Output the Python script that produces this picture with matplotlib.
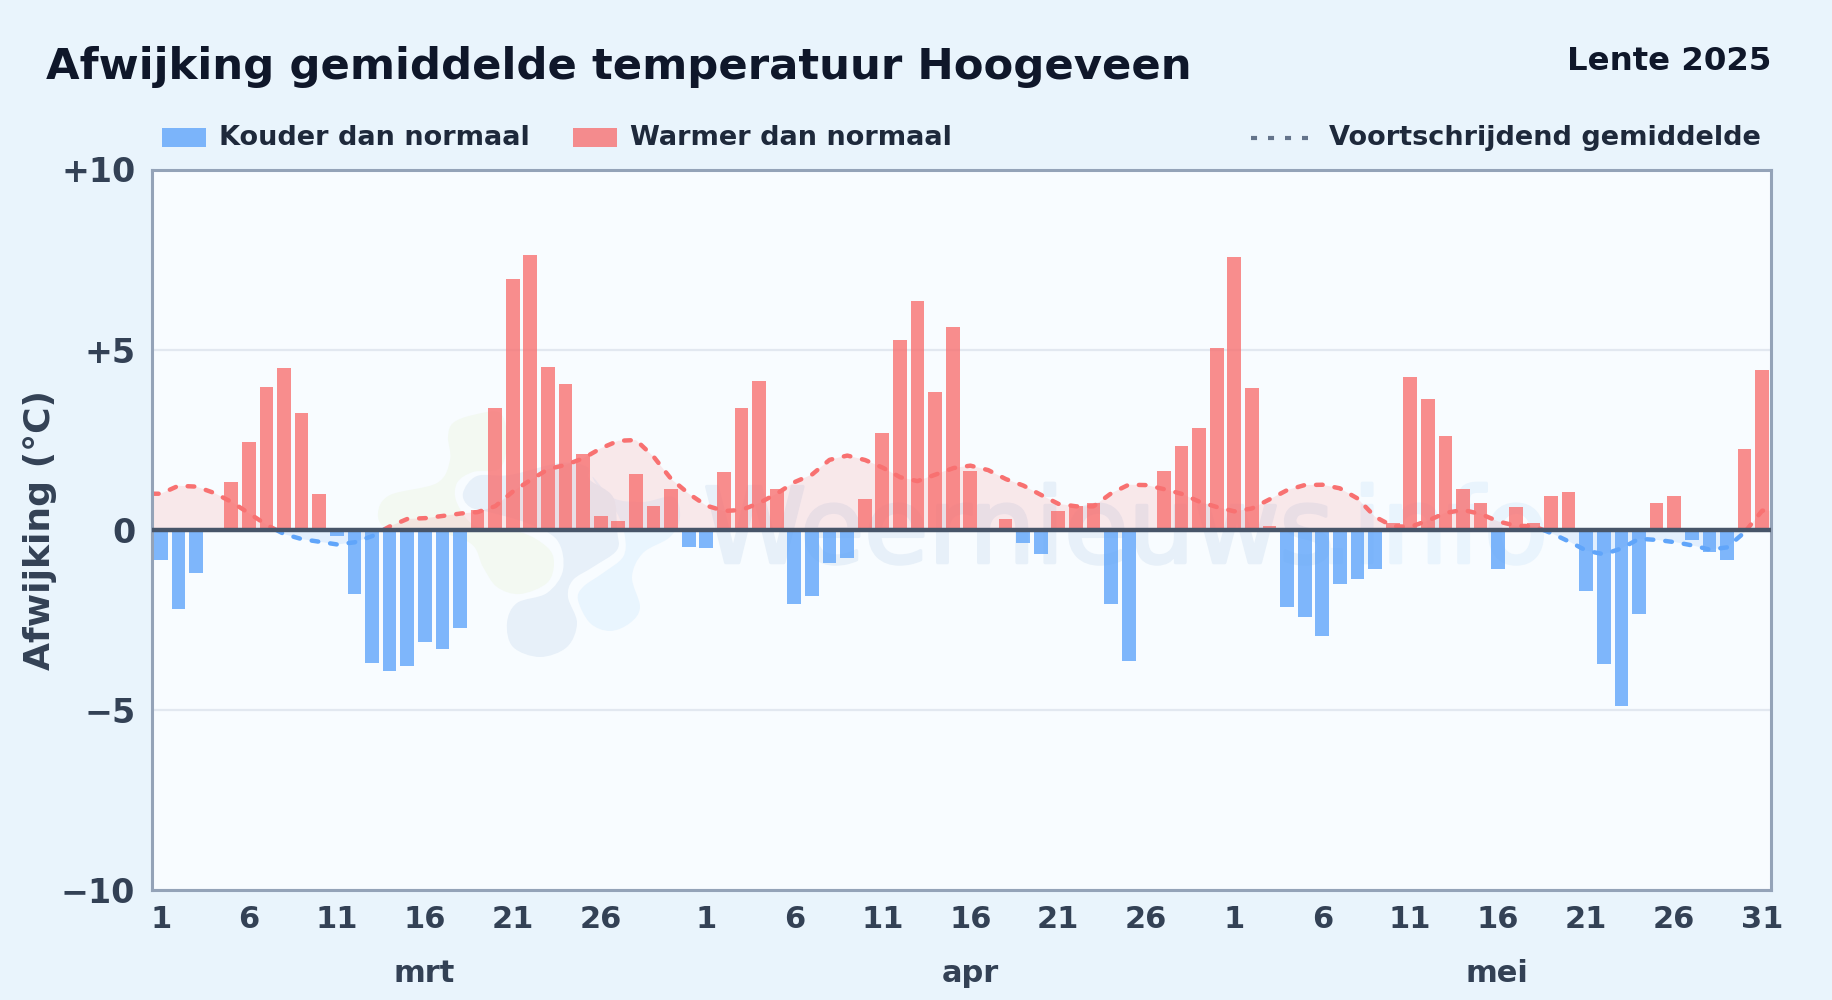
import numpy as np
import matplotlib
matplotlib.use("Agg")
import matplotlib.pyplot as plt
import matplotlib.patheffects as pe
from matplotlib.patches import PathPatch, Rectangle
from matplotlib.path import Path
from matplotlib.lines import Line2D

W, H = 1832, 1000

afwijking = [
    -0.83, -2.2, -1.21, -0.07, 1.33, 2.44, 3.97, 4.5, 3.25, 1.0, -0.18, -1.78, -3.7, -3.93, -3.78, -3.12,
    -3.3, -2.72, 0.54, 3.39, 6.97, 7.63, 4.52, 4.05, 2.11, 0.39, 0.25, 1.56, 0.67, 1.12, -0.49,
    -0.52, 1.59, 3.39, 4.13, 1.14, -2.07, -1.85, -0.93, -0.79, 0.84, 2.69, 5.27, 6.35, 3.83, 5.63,
    1.64, 0.06, 0.29, -0.38, -0.68, 0.51, 0.65, 0.73, -2.07, -3.64, 0.0, 1.64, 2.33, 2.83, 5.05,
    7.57, 3.94, 0.11, -2.14, -2.42, -2.94, -1.5, -1.37, -1.08, 0.2, 4.25, 3.64, 2.59, 1.12, 0.73,
    -1.08, 0.64, 0.18, 0.93, 1.04, -1.7, -3.74, -4.88, -2.33, 0.73, 0.93, -0.29, -0.61, -0.84, 2.25, 4.44,
]
gemiddelde = [
    1.0, 1.22, 1.2, 1.03, 0.78, 0.46, 0.14, -0.12, -0.26, -0.33, -0.41, -0.35, -0.18, 0.09, 0.3, 0.32,
    0.38, 0.45, 0.49, 0.65, 1.06, 1.38, 1.68, 1.8, 1.98, 2.26, 2.47, 2.49, 2.03, 1.41, 1.0,
    0.67, 0.52, 0.55, 0.74, 1.0, 1.32, 1.53, 1.94, 2.06, 1.94, 1.73, 1.46, 1.35, 1.53, 1.71,
    1.78, 1.66, 1.41, 1.23, 0.97, 0.72, 0.65, 0.65, 1.01, 1.25, 1.24, 1.13, 1.0, 0.78, 0.63,
    0.51, 0.59, 0.84, 1.1, 1.24, 1.25, 1.15, 0.87, 0.36, 0.1, 0.08, 0.25, 0.47, 0.55, 0.44,
    0.23, 0.11, 0.1, -0.09, -0.32, -0.58, -0.68, -0.52, -0.25, -0.28, -0.34, -0.43, -0.55, -0.49, -0.07, 0.53,
]
dag_labels = ["1", "6", "11", "16", "21", "26", "1", "6", "11", "16", "21", "26", "1", "6", "11", "16", "21", "26", "31"]
dag_posities = [0, 5, 10, 15, 20, 25, 31, 36, 41, 46, 51, 56, 61, 66, 71, 76, 81, 86, 91]
maanden = ["mrt", "apr", "mei"]
y_ticks = [-10, -5, 0, 5, 10]
y_labels = ["\u221210", "\u22125", "0", "+5", "+10"]

BLAUW = "#60a5fa"
ROOD = "#f87171"
TEKST = "#1e293b"
AS_TEKST = "#334155"

# logo-vlekken van het watermerk, in pixels van de afbeelding
logo_groen = [(453, 423), (473, 415), (500, 413), (507, 440), (500, 468), (473, 472), (457, 483), (457, 503),
              (477, 527), (520, 532), (547, 547), (554, 563), (547, 583), (520, 594), (497, 587), (483, 567),
              (470, 543), (427, 530), (387, 528), (378, 513), (390, 495), (437, 483), (450, 460), (448, 437)]
logo_grijs = [(463, 493), (477, 476), (510, 475), (560, 463), (587, 467), (590, 480), (613, 497), (617, 530),
              (617, 550), (593, 567), (573, 580), (568, 597), (577, 623), (567, 647), (540, 657), (513, 647),
              (507, 623), (517, 603), (547, 593), (563, 570), (557, 540), (527, 523), (493, 513), (470, 507)]
logo_blauw = [(593, 477), (613, 498), (643, 502), (673, 497), (680, 517), (670, 537), (643, 553), (632, 577),
              (640, 607), (630, 623), (610, 631), (590, 623), (578, 600), (583, 587), (603, 573), (623, 557),
              (625, 537), (617, 513), (600, 490)]


def vlek(punten, kleur):
    # gesloten Catmull-Rom curve als Bezier-pad
    p = np.array(punten, dtype=float)
    n = len(p)
    verts = [p[0]]
    codes = [Path.MOVETO]
    for i in range(n):
        p0, p1, p2, p3 = p[i - 1], p[i], p[(i + 1) % n], p[(i + 2) % n]
        verts += [p1 + (p2 - p0) / 6, p2 - (p3 - p1) / 6, p2]
        codes += [Path.CURVE4] * 3
    verts = np.array(verts) / [W, H]
    verts[:, 1] = 1 - verts[:, 1]
    return PathPatch(Path(verts, codes), fc=kleur, lw=0, transform=fig.transFigure, zorder=1)


fig = plt.figure(figsize=(W / 100, H / 100), dpi=100, facecolor="#e9f4fc")
ax = fig.add_axes([152 / W, 1 - 890 / H, (1771 - 152) / W, (890 - 169.5) / H], facecolor="#f8fcff")

x = np.arange(len(afwijking))
y = np.array(afwijking)
g = np.array(gemiddelde)

# watermerk
ax.add_patch(vlek(logo_groen, "#f3f9f2"))
ax.add_patch(vlek(logo_blauw, "#e9f5fe"))
ax.add_patch(vlek(logo_grijs, "#e7f0f9"))
for tekst, xt, ha, kleur in [("Weernieuws", 0.3405, "left", "#e7f0f9"), (".info", 0.8622, "right", "#e9f4fd")]:
    ax.text(xt, 0.4545, tekst, transform=ax.transAxes, fontsize=75, color=kleur, ha=ha, va="baseline", zorder=1,
            path_effects=[pe.withStroke(linewidth=2.5, foreground=kleur)])

# lijn doorgetrokken tot de randen van de as en fijn bemonsterd voor de tekenwissel
xf = np.linspace(-0.5, 91.5, 3000)
gf = np.interp(xf, np.r_[-0.5, x, 91.5], np.r_[g[0], g, g[-1]])
ax.fill_between(xf, gf, 0, where=gf >= 0, color=ROOD, alpha=0.14, lw=0, zorder=2)
ax.fill_between(xf, gf, 0, where=gf <= 0, color=BLAUW, alpha=0.14, lw=0, zorder=2)
streep = (0, (1.5, 2.7))
ax.plot(xf, np.where(gf >= 0, gf, np.nan), color=ROOD, lw=3.2, ls=streep, dash_capstyle="round", zorder=2.5)
ax.plot(xf, np.where(gf <= 0, gf, np.nan), color=BLAUW, lw=3.2, ls=streep, dash_capstyle="round", zorder=2.5)

kleuren = [BLAUW if v < 0 else ROOD for v in y]
ax.bar(x, y, width=0.78, color=kleuren, alpha=0.8, lw=0, zorder=3)

ax.axhline(0, color="#475569", lw=3.2, zorder=5)
ax.set_xlim(-0.5, 91.5)
ax.set_ylim(-10, 10)
ax.set_yticks(y_ticks)
ax.set_yticklabels(y_labels)
ax.set_xticks(dag_posities)
ax.set_xticklabels(dag_labels)
ax.grid(axis="y", color="#e2e8f0", lw=1.6, zorder=0)
ax.set_axisbelow(True)
ax.tick_params(axis="x", length=0, labelsize=22, labelcolor=AS_TEKST, pad=11)
ax.tick_params(axis="y", length=0, labelsize=24, labelcolor=AS_TEKST, pad=12)
for lab in ax.get_xticklabels() + ax.get_yticklabels():
    lab.set_fontweight("bold")
for s in ax.spines.values():
    s.set_color("#94a3b8")
    s.set_linewidth(2.2)

ax.set_ylabel("Afwijking (\u00b0C)", fontsize=26, fontweight="bold", color=AS_TEKST, labelpad=2.5)

fig.text(46 / W, 1 - 67 / H, "Afwijking gemiddelde temperatuur Hoogeveen", fontsize=31.2, fontweight="bold",
         color="#0f172a", va="center")
fig.text(1771 / W, 1 - 62 / H, "Lente 2025", fontsize=23.3, fontweight="bold", color="#0f172a", ha="right", va="center")

# legenda
for x0, kleur in [(162, BLAUW), (573, ROOD)]:
    fig.add_artist(Rectangle((x0 / W, 1 - 147 / H), 44 / W, 19 / H, transform=fig.transFigure, fc=kleur, alpha=0.8, lw=0))
fig.text(219 / W, 1 - 138 / H, "Kouder dan normaal", fontsize=19.5, fontweight="bold", color=TEKST, va="center")
fig.text(630 / W, 1 - 138 / H, "Warmer dan normaal", fontsize=19.5, fontweight="bold", color=TEKST, va="center")
fig.add_artist(Line2D([1251 / W, 1308 / W], [1 - 137.5 / H] * 2, transform=fig.transFigure, color="#64748b", lw=3,
                      ls=(0, (1.45, 2.63))))
fig.text(1329 / W, 1 - 138 / H, "Voortschrijdend gemiddelde", fontsize=19.5, fontweight="bold", color=TEKST, va="center")

# maanden onder de as
for m, xm in zip(maanden, [424, 970, 1497]):
    fig.text(xm / W, 1 - 974 / H, m, fontsize=22, fontweight="bold", color=AS_TEKST, ha="center", va="center")

fig.savefig("out.png", dpi=100, facecolor=fig.get_facecolor())
